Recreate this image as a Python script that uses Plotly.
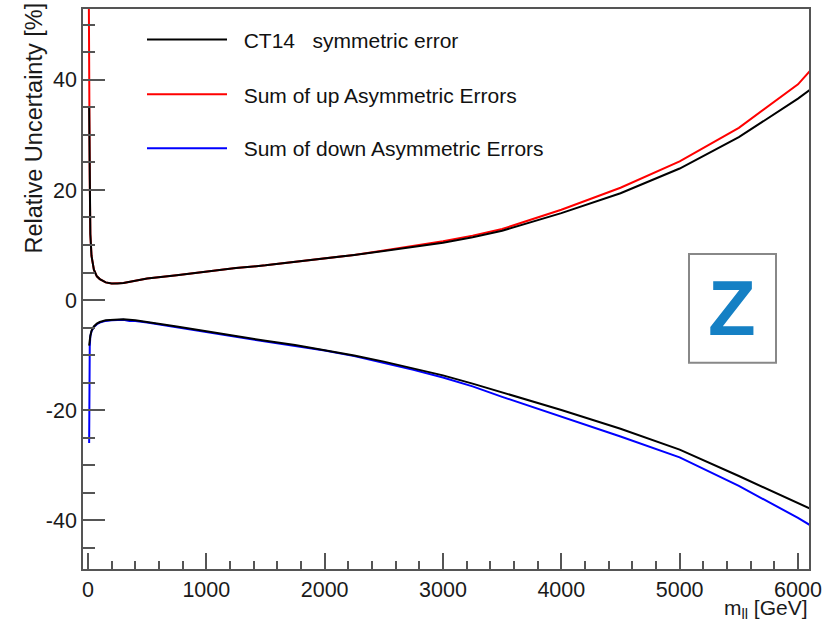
import plotly.graph_objects as go

# ---- data ----
m_sym = [10, 15, 20, 30, 50, 75, 100, 150, 200, 250, 300, 400, 500, 750, 1000, 1250, 1500,
         1750, 2000, 2250, 2500, 2750, 3000, 3250, 3500, 4000, 4500, 5000, 5500, 6000, 6100]
sym_up = [35, 22, 12, 8, 5.5, 4.3, 3.8, 3.2, 3.0, 3.0, 3.1, 3.5, 3.9, 4.5, 5.2, 5.8, 6.3,
          6.9, 7.5, 8.2, 8.9, 9.6, 10.4, 11.4, 12.6, 15.8, 19.4, 23.9, 29.6, 36.6, 38.2]
sym_down = [-8.3, -7.2, -6.5, -5.6, -4.8, -4.3, -4.0, -3.7, -3.6, -3.5, -3.5, -3.7, -4.0, -4.8,
            -5.7, -6.6, -7.4, -8.2, -9.1, -10.1, -11.2, -12.4, -13.7, -15.2, -16.8, -20.0,
            -23.4, -27.2, -32.0, -37.0, -37.9]

m_up = [6, 10, 15, 20, 30, 50, 75, 100, 150, 200, 250, 300, 400, 500, 750, 1000, 1250, 1500,
        1750, 2000, 2250, 2500, 2750, 3000, 3250, 3500, 4000, 4500, 5000, 5500, 6000, 6100]
asym_up = [60, 30, 22, 12, 8, 5.5, 4.3, 3.8, 3.2, 3.0, 3.0, 3.1, 3.5, 3.9, 4.5, 5.2, 5.8, 6.3,
           6.9, 7.5, 8.2, 9.0, 9.8, 10.7, 11.7, 12.9, 16.4, 20.4, 25.2, 31.3, 39.2, 41.6]

m_down = [10, 12, 15, 20, 30, 50, 75, 100, 150, 200, 250, 300, 350, 400, 500, 750, 1000, 1250,
          1500, 1750, 2000, 2250, 2500, 2750, 3000, 3250, 3500, 4000, 4500, 5000, 5500, 6000, 6100]
asym_down = [-26, -15, -8.5, -6.6, -5.7, -4.9, -4.4, -4.1, -3.8, -3.7, -3.6, -3.6, -3.8, -3.8,
             -4.1, -4.9, -5.8, -6.7, -7.5, -8.3, -9.2, -10.2, -11.4, -12.7, -14.1, -15.7,
             -17.6, -21.2, -24.8, -28.6, -33.8, -39.6, -40.9]

names = ["CT14   symmetric error", "Sum of up Asymmetric Errors", "Sum of down Asymmetric Errors"]

x_tickvals = [0, 1000, 2000, 3000, 4000, 5000, 6000]
y_tickvals = [-40, -20, 0, 20, 40]
y_ticktext = ["-40", "-20", "0", "20", "40"]

FONT = "Liberation Sans, Arial, sans-serif"
NB = "\u00a0\u00a0"

fig = go.Figure()
fig.add_trace(go.Scatter(x=m_up, y=asym_up, mode="lines", line=dict(color="#ff0000", width=2),
                         name=NB + names[1], legend="legend2"))
fig.add_trace(go.Scatter(x=m_down, y=asym_down, mode="lines", line=dict(color="#0000ff", width=2),
                         name=NB + names[2], legend="legend3"))
fig.add_trace(go.Scatter(x=m_sym, y=sym_up, mode="lines", line=dict(color="#000000", width=2),
                         name=NB + names[0], legend="legend"))
fig.add_trace(go.Scatter(x=m_sym, y=sym_down, mode="lines", line=dict(color="#000000", width=2),
                         name=names[0], showlegend=False))

W, H = 834, 622
L, R, T, B = 83, 25, 7, 53
pw, ph = W - L - R, H - T - B


def px(x):
    return (x - L) / pw


def py(y):
    return 1 - (y - T) / ph


leg_common = dict(font=dict(family=FONT, size=21, color="#111"), bgcolor="rgba(0,0,0,0)",
                  itemwidth=80, xanchor="left", yanchor="middle")

fig.update_layout(
    width=W, height=H,
    margin=dict(l=L, r=R, t=T, b=B),
    paper_bgcolor="white", plot_bgcolor="white",
    font=dict(family=FONT, size=21, color="#111"),
    legend=dict(x=px(142), y=py(38), **leg_common),
    legend2=dict(x=px(142), y=py(93), **leg_common),
    legend3=dict(x=px(142), y=py(147), **leg_common),
    xaxis=dict(range=[-42, 6093], showgrid=False, zeroline=False,
               showline=True, linecolor="#555", linewidth=1.5, mirror=True,
               ticks="inside", ticklen=16, tickcolor="#555", tickwidth=1.5,
               tickvals=x_tickvals,
               minor=dict(dtick=200, ticks="inside", ticklen=8, tickcolor="#555", tickwidth=1.5),
               tickfont=dict(size=21.5, color="#1a1a1a")),
    yaxis=dict(range=[-48.9, 52.9], showgrid=False, zeroline=False,
               showline=True, linecolor="#555", linewidth=1.5, mirror=True,
               ticks="inside", ticklen=22, tickcolor="#555", tickwidth=1.5,
               tickvals=y_tickvals, ticktext=y_ticktext,
               minor=dict(dtick=5, ticks="inside", ticklen=12, tickcolor="#555", tickwidth=1.5),
               tickfont=dict(size=21.5, color="#1a1a1a")),
    annotations=[
        dict(text="Relative Uncertainty [%]", textangle=-90, xref="paper", yref="paper",
             x=px(34), y=py(127), xanchor="center", yanchor="middle", showarrow=False,
             font=dict(size=23.5, family=FONT, color="#1a1a1a")),
        dict(text="m<sub>ll</sub> [GeV]", xref="paper", yref="paper",
             x=px(809), y=py(609), xanchor="right", yanchor="middle", showarrow=False,
             borderpad=0, font=dict(size=21, family=FONT, color="#1a1a1a")),
        dict(text="<b>Z</b>", xref="paper", yref="paper",
             x=px(732), y=py(307), xanchor="center", yanchor="middle", showarrow=False,
             font=dict(size=78, family=FONT, color="#1580c4")),
    ],
    shapes=[
        dict(type="rect", xref="paper", yref="paper", x0=px(689), x1=px(776), y0=py(362), y1=py(253),
             line=dict(color="#888", width=2), fillcolor="white", layer="below"),
    ],
)

fig.write_html("out.html", config={"displayModeBar": False},
               post_script="document.body.style.margin='0';document.body.style.padding='0';")
